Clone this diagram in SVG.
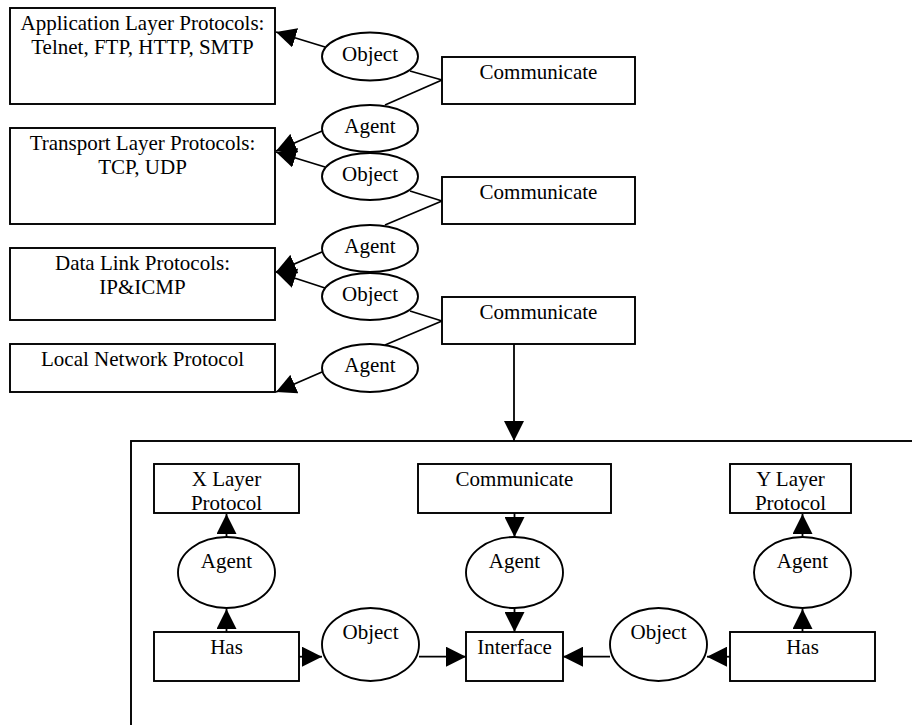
<svg xmlns="http://www.w3.org/2000/svg" width="912" height="725" viewBox="0 0 912 725">
<style>
.box{fill:#fff;stroke:#000;stroke-width:1.9}
.ell{fill:#fff;stroke:#000;stroke-width:1.9}
.lbl{font-family:"Liberation Serif","Times New Roman",serif;font-size:21px;fill:#000;text-anchor:middle}
.con{fill:none;stroke:#000;stroke-width:1.8}
.arr{marker-end:url(#ah)}
</style>
<defs>
<marker id="ah" markerUnits="userSpaceOnUse" markerWidth="20" markerHeight="20" refX="20" refY="10" orient="auto" viewBox="0 0 20 20">
<path d="M0,0 L20,10 L0,20 z" fill="#000"/>
</marker>
</defs>
<rect width="912" height="725" fill="#fff"/>

<g id="container"><rect class="box" x="131" y="441" width="900" height="400" fill="none"/></g>

<g id="app"><rect class="box" x="10" y="8" width="265" height="96"/><text class="lbl" x="142.5" y="30">Application Layer Protocols:</text><text class="lbl" x="142.5" y="54">Telnet, FTP, HTTP, SMTP</text></g>
<g id="transport"><rect class="box" x="10" y="128" width="265" height="96"/><text class="lbl" x="142.5" y="150">Transport Layer Protocols:</text><text class="lbl" x="142.5" y="174">TCP, UDP</text></g>
<g id="datalink"><rect class="box" x="10" y="248" width="265" height="72"/><text class="lbl" x="142.5" y="270">Data Link Protocols:</text><text class="lbl" x="142.5" y="294">IP&amp;ICMP</text></g>
<g id="localnet"><rect class="box" x="10" y="344" width="265" height="48"/><text class="lbl" x="142.5" y="366">Local Network Protocol</text></g>

<g id="object1"><ellipse class="ell" cx="370" cy="56.5" rx="48" ry="24"/><text class="lbl" x="370" y="60.5">Object</text></g>
<g id="agent1"><ellipse class="ell" cx="370" cy="128.5" rx="48" ry="23.5"/><text class="lbl" x="370" y="132.5">Agent</text></g>
<g id="object2"><ellipse class="ell" cx="370" cy="176.5" rx="48" ry="23.5"/><text class="lbl" x="370" y="180.5">Object</text></g>
<g id="agent2"><ellipse class="ell" cx="370" cy="248.5" rx="48" ry="23.5"/><text class="lbl" x="370" y="252.5">Agent</text></g>
<g id="object3"><ellipse class="ell" cx="370" cy="296.5" rx="48" ry="23.5"/><text class="lbl" x="370" y="300.5">Object</text></g>
<g id="agent3"><ellipse class="ell" cx="370" cy="368" rx="48" ry="24"/><text class="lbl" x="370" y="372">Agent</text></g>

<g id="communicate1"><rect class="box" x="442" y="57" width="193" height="47"/><text class="lbl" x="538.5" y="79">Communicate</text></g>
<g id="communicate2"><rect class="box" x="442" y="177" width="193" height="47"/><text class="lbl" x="538.5" y="199">Communicate</text></g>
<g id="communicate3"><rect class="box" x="442" y="297" width="193" height="47"/><text class="lbl" x="538.5" y="319">Communicate</text></g>

<g id="xlayer"><rect class="box" x="154" y="464" width="145" height="49"/><text class="lbl" x="226.5" y="486">X Layer</text><text class="lbl" x="226.5" y="510">Protocol</text></g>
<g id="communicate4"><rect class="box" x="418" y="464" width="193" height="49"/><text class="lbl" x="514.5" y="486">Communicate</text></g>
<g id="ylayer"><rect class="box" x="730" y="464" width="121" height="49"/><text class="lbl" x="790.5" y="486">Y Layer</text><text class="lbl" x="790.5" y="510">Protocol</text></g>

<g id="agentL"><ellipse class="ell" cx="226.5" cy="572.5" rx="48.5" ry="35.5"/><text class="lbl" x="226.5" y="568">Agent</text></g>
<g id="agentC"><ellipse class="ell" cx="514.5" cy="572.5" rx="48.5" ry="35.5"/><text class="lbl" x="514.5" y="568">Agent</text></g>
<g id="agentR"><ellipse class="ell" cx="802.5" cy="572.5" rx="48.5" ry="35.5"/><text class="lbl" x="802.5" y="568">Agent</text></g>

<g id="hasL"><rect class="box" x="154" y="632" width="145" height="49"/><text class="lbl" x="226.5" y="654">Has</text></g>
<g id="objectL"><ellipse class="ell" cx="370.5" cy="644.5" rx="48.5" ry="36.5"/><text class="lbl" x="370.5" y="639">Object</text></g>
<g id="interface"><rect class="box" x="466" y="632" width="97" height="49"/><text class="lbl" x="514.5" y="654">Interface</text></g>
<g id="objectR"><ellipse class="ell" cx="658.5" cy="644.5" rx="48.5" ry="36.5"/><text class="lbl" x="658.5" y="639">Object</text></g>
<g id="hasR"><rect class="box" x="730" y="632" width="145" height="49"/><text class="lbl" x="802.5" y="654">Has</text></g>

<g id="connectors">
<line class="con arr" x1="325" y1="47" x2="276" y2="32"/>
<line class="con arr" x1="322" y1="131" x2="276" y2="151"/>
<line class="con arr" x1="325" y1="167" x2="276" y2="152"/>
<line class="con arr" x1="322" y1="252" x2="276" y2="272"/>
<line class="con arr" x1="325" y1="288" x2="276" y2="272"/>
<line class="con arr" x1="322" y1="372" x2="276" y2="392"/>
<line class="con" x1="410" y1="71" x2="442" y2="80"/>
<line class="con" x1="385" y1="105" x2="442" y2="80"/>
<line class="con" x1="410" y1="191" x2="442" y2="201"/>
<line class="con" x1="385" y1="225" x2="442" y2="201"/>
<line class="con" x1="410" y1="311" x2="442" y2="321"/>
<line class="con" x1="385" y1="345" x2="442" y2="321"/>
<line class="con arr" x1="514" y1="344" x2="514" y2="441"/>
<line class="con arr" x1="226.5" y1="537" x2="226.5" y2="514"/>
<line class="con arr" x1="226.5" y1="632" x2="226.5" y2="609"/>
<line class="con arr" x1="299" y1="656.7" x2="322" y2="656.7"/>
<line class="con arr" x1="419" y1="656.7" x2="466" y2="656.7"/>
<line class="con arr" x1="514.5" y1="513" x2="514.5" y2="537"/>
<line class="con arr" x1="514.5" y1="608" x2="514.5" y2="632"/>
<line class="con arr" x1="610" y1="656.7" x2="563" y2="656.7"/>
<line class="con arr" x1="730" y1="656.7" x2="707" y2="656.7"/>
<line class="con arr" x1="802.5" y1="537" x2="802.5" y2="514"/>
<line class="con arr" x1="802.5" y1="632" x2="802.5" y2="609"/>
</g>
</svg>
